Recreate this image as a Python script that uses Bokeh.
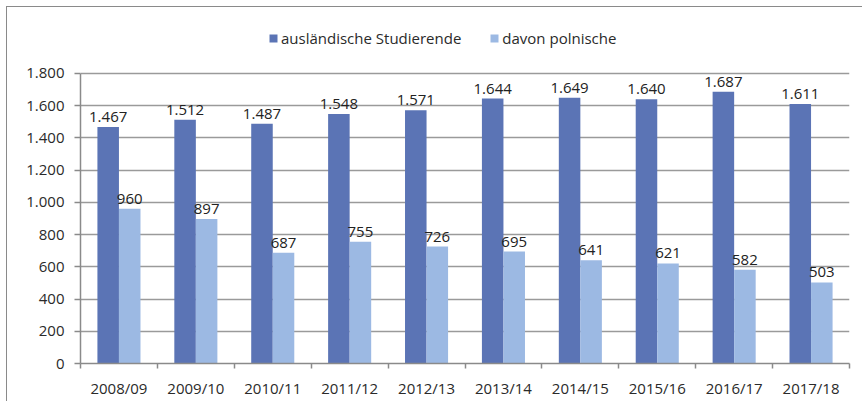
from bokeh.plotting import figure
from bokeh.models import ColumnDataSource, FixedTicker, Legend, LegendItem, Range1d, LabelSet
from bokeh.transform import dodge
from bokeh.embed import file_html
from bokeh.resources import INLINE
from bokeh.core.properties import value

years = ["2008/09", "2009/10", "2010/11", "2011/12", "2012/13",
         "2013/14", "2014/15", "2015/16", "2016/17", "2017/18"]
auslaendische = [1467, 1512, 1487, 1548, 1571, 1644, 1649, 1640, 1687, 1611]
polnische = [960, 897, 687, 755, 726, 695, 641, 621, 582, 503]
y_ticks = [0, 200, 400, 600, 800, 1000, 1200, 1400, 1600, 1800]

def de(n):
    return f"{n:,}".replace(",", ".")

FONT = "Open Sans"
DARK = "#5b74b5"
LIGHT = "#9cb9e3"
GRID = "#9a9a9a"
AXIS = "#8a8a8a"

Y_MAX = 1800
Y_TOP = 2085  # headroom above the axis for the legend

idx = list(range(len(years)))
src = ColumnDataSource(dict(
    x=idx, a=auslaendische, p=polnische,
    a_lab=[de(v) for v in auslaendische],
    p_lab=[de(v) for v in polnische],
))

p = figure(width=856, height=395, output_backend="svg", toolbar_location=None,
           x_range=Range1d(-0.5, len(years) - 0.5), y_range=Range1d(0, Y_TOP),
           min_border_left=73, min_border_right=14, min_border_top=20, min_border_bottom=39)
p.styles = {"border-left": "1.5px solid #8a8a8a", "border-top": "1.5px solid #8a8a8a",
            "margin-left": "6px", "margin-top": "6px"}
p.outline_line_color = None

w = 0.28
r1 = p.vbar(x=dodge("x", -w / 2), top="a", width=w, source=src,
            fill_color=DARK, line_color=None)
r2 = p.vbar(x=dodge("x", w / 2), top="p", width=w, source=src,
            fill_color=LIGHT, line_color=None)

for col, lab, off in (("a", "a_lab", -w / 2), ("p", "p_lab", w / 2)):
    ls = LabelSet(x=dodge("x", off), y=col, text=lab, source=src,
                  text_align="center", text_baseline="bottom", y_offset=5,
                  text_font=value(FONT), text_font_size="15px", text_color="#222222")
    p.add_layout(ls)

# axes
p.xaxis.ticker = FixedTicker(ticks=idx, minor_ticks=[i - 0.5 for i in range(len(years) + 1)])
p.xaxis.major_label_overrides = {i: y for i, y in enumerate(years)}
p.xaxis.major_tick_out = 0
p.xaxis.major_tick_in = 0
p.xaxis.minor_tick_out = 5
p.xaxis.minor_tick_in = 0
p.xaxis.minor_tick_line_color = AXIS
p.xaxis.minor_tick_line_width = 1.5
p.xaxis.major_label_standoff = 9

p.yaxis.ticker = FixedTicker(ticks=y_ticks)
p.yaxis.bounds = (0, Y_MAX)
p.yaxis.major_label_overrides = {t: de(t) for t in y_ticks}
p.yaxis.major_tick_out = 6
p.yaxis.major_tick_in = 0
p.yaxis.minor_tick_line_color = None
p.yaxis.major_tick_line_color = AXIS
p.yaxis.major_tick_line_width = 1.5
p.yaxis.major_label_standoff = 10

for ax in (p.xaxis[0], p.yaxis[0]):
    ax.axis_line_color = AXIS
    ax.axis_line_width = 1.5
    ax.major_label_text_font = FONT
    ax.major_label_text_font_size = "15px"
    ax.major_label_text_color = "#2a2a2a"

p.xgrid.grid_line_color = None
p.ygrid.grid_line_color = GRID
p.ygrid.grid_line_width = 1.5

legend = Legend(items=[LegendItem(label="ausländische Studierende", renderers=[r1]),
                       LegendItem(label="davon polnische", renderers=[r2])],
                orientation="horizontal", location=(188, 315),
                padding=0, margin=0, spacing=28, glyph_width=10, glyph_height=10,
                label_standoff=3, label_text_font=FONT, label_text_font_size="15px",
                label_text_color="#2a2a2a", border_line_color=None,
                background_fill_alpha=0, label_height=18)
p.add_layout(legend, "center")

open("out.html", "w").write(file_html(p, INLINE))
